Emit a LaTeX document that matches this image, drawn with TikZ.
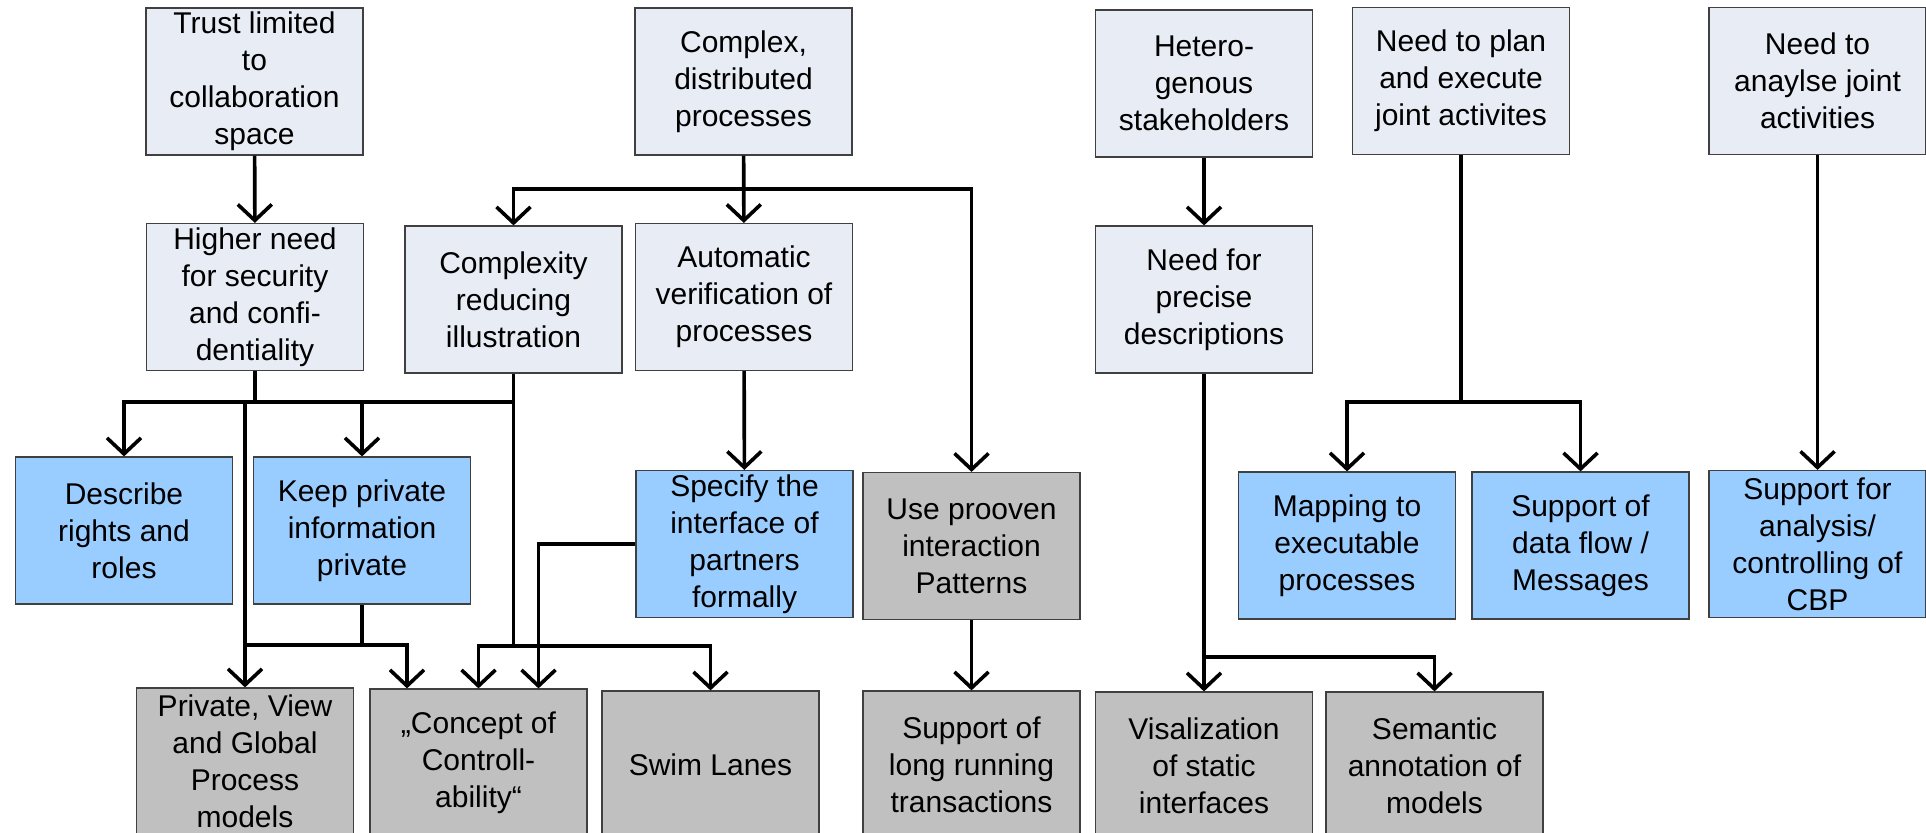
\documentclass[tikz,border=0pt]{standalone}
\usepackage{fontspec}
\setmainfont{Liberation Sans}
\usetikzlibrary{arrows.meta,calc}
\definecolor{needfill}{RGB}{231,236,245}
\definecolor{reqfill}{RGB}{153,204,255}
\definecolor{solfill}{RGB}{192,192,192}
\definecolor{boxline}{RGB}{64,64,64}
\begin{document}
\begin{tikzpicture}[x=0.5pt,y=-0.5pt,
  box/.style={draw=boxline, line width=0.6pt, minimum width=108.5pt,
    minimum height=73.5pt, inner sep=0pt, align=center,
    font=\fontsize{15}{18.5}\selectfont},
  need/.style={box, fill=needfill},
  req/.style={box, fill=reqfill},
  sol/.style={box, fill=solfill},
  link/.style={line width=1.8pt, line join=miter},
  arr/.style={link, -{Straight Barb[length=8pt,width=17pt]}}
]
\useasboundingbox (0,0) rectangle (1926,832);

% ---- top row: needs
\node[need] (trust)   at (254.5,81.5) {Trust limited\\to\\collaboration\\space};
\node[need] (complex) at (743.5,81.5) {Complex,\\distributed\\processes};
\node[need] (hetero)  at (1204,83.5)  {Hetero-\\genous\\stakeholders};
\node[need] (plan)    at (1461,81)    {Need to plan\\and execute\\joint activites};
\node[need] (analyse) at (1817.5,81)  {Need to\\anaylse joint\\activities};

% ---- second row: derived needs
\node[need] (higher)     at (255,297)    {Higher need\\for security\\and confi-\\dentiality};
\node[need] (complexity) at (513.5,299.5) {Complexity\\reducing\\illustration};
\node[need] (automatic)  at (744,297)    {Automatic\\verification of\\processes};
\node[need] (precise)    at (1204,299.5) {Need for\\precise\\descriptions};

% ---- third row: requirements
\node[req] (describe) at (124,530.5)   {Describe\\rights and\\roles};
\node[req] (keep)     at (362,530.5)   {Keep private\\information\\private};
\node[req] (spec)     at (744.5,544)   {Specify the\\interface of\\partners\\formally};
\node[sol] (prooven)  at (971.5,546)   {Use prooven\\interaction\\Patterns};
\node[req] (mapping)  at (1347,545.5)  {Mapping to\\executable\\processes};
\node[req] (dataflow) at (1580.5,545.5) {Support of\\data flow /\\Messages};
\node[req] (cbp)      at (1817.5,544)  {Support for\\analysis/\\controlling of\\CBP};

% ---- bottom row: concepts
\node[sol] (privview) at (245,761.5)   {Private, View\\and Global\\Process\\models};
\node[sol] (concept)  at (478.5,762.5) {„Concept of\\Controll-\\ability“};
\node[sol] (swim)     at (710.5,764.5) {Swim Lanes};
\node[sol] (longrun)  at (971.5,764.5) {Support of\\long running\\transactions};
\node[sol] (visal)    at (1204,765.5)  {Visalization\\of static\\interfaces};
\node[sol] (semantic) at (1434.5,765.5) {Semantic\\annotation of\\models};

% ---- junction points of the connector trees
\coordinate (jC) at (743.5,189);
\coordinate (jH) at (255,402);
\coordinate (jX) at (513.5,646);
\coordinate (jK) at (362,645);
\coordinate (jP) at (1461,402);
\coordinate (jV) at (1204,657);

% ---- connectors
\draw[arr] (trust) -- (higher);

\draw[arr] (complex) -- (automatic);
\draw[arr] (jC) -| (complexity.north);
\draw[arr] (jC) -| (prooven.north);
\draw[arr] (automatic) -- (spec);
\draw[arr] (prooven) -- (longrun);

\draw[link] (higher.south) -- (jH);
\draw[arr] (jH) -| (describe.north);
\draw[arr] (jH) -| (keep.north);
\draw[link] (jH) -- (complexity.south |- jH);
\draw[arr] (privview.north |- jH) -- (privview.north);
\draw[link] (complexity.south) -- (jX);
\draw[arr] (jX) -| (concept.north);
\draw[arr] (jX) -| (swim.north);
\draw[link] (keep.south) -- (jK) -- (privview.north |- jK);
\draw[arr] (jK) -| ($(concept.north)+(-71.5,0)$);
\draw[arr] (spec.west) -| ($(concept.north)+(60,0)$);

\draw[arr] (hetero) -- (precise);
\draw[arr] (precise.south) -- (visal.north);
\draw[arr] (jV) -| (semantic.north);

\draw[link] (plan.south) -- (jP);
\draw[arr] (jP) -| (mapping.north);
\draw[arr] (jP) -| (dataflow.north);

\draw[arr] (analyse) -- (cbp);
\end{tikzpicture}
\end{document}
